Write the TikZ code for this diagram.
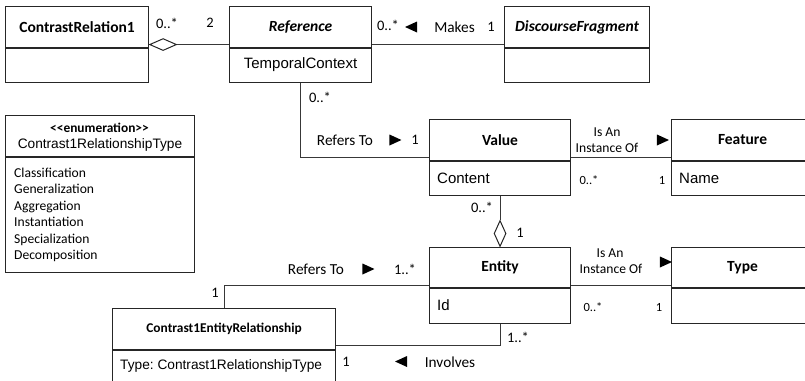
\documentclass[tikz,border=0pt]{standalone}
\usepackage{fontspec}
\setmainfont{Carlito}
\newfontfamily\arialfont{Liberation Sans}
\usetikzlibrary{shapes.geometric}
\frenchspacing

% class box: name, left, top, width, height, header height, title
\newcommand\umlbox[7]{%
  \node[box, minimum width=#4pt, minimum height=#5pt, anchor=north west] (#1) at (#2,#3) {};
  \draw[rule] ([yshift=-#6pt]#1.north west) -- ([yshift=-#6pt]#1.north east);
  \node[cname] (#1-title) at ([yshift=-#6pt/2]#1.north) {#7};
}

\begin{document}
\begin{tikzpicture}[x=1pt,y=-1pt,
  box/.style={draw=black!85, line width=1.1pt, rectangle, inner sep=0pt, fill=white},
  rule/.style={draw=black!85, line width=1.1pt},
  conn/.style={draw=black!78, line width=1pt},
  cname/.style={font=\fontsize{15.5}{18}\selectfont\bfseries, inner sep=0pt},
  attr/.style={font=\arialfont\fontsize{15}{18}\selectfont, inner sep=0pt},
  lab/.style={font=\fontsize{15.3}{18}\selectfont, inner sep=0pt},
  labs/.style={font=\fontsize{13.6}{16}\selectfont, inner sep=0pt},
  mult/.style={font=\fontsize{14.5}{17}\selectfont, inner sep=0pt},
  mults/.style={font=\fontsize{12.5}{15}\selectfont, inner sep=0pt},
  tri/.style={isosceles triangle, isosceles triangle stretches, fill=black, inner sep=0pt,
    minimum width=11pt, minimum height=12pt},
  rtri/.style={tri, shape border rotate=0},
  ltri/.style={tri, shape border rotate=180},
  agg/.style={diamond, draw=black!85, line width=1pt, fill=white, inner sep=0pt}
]
\clip (0,0) rectangle (805,380);

% ---- classes ----
\umlbox{cr1}{5}{6}{143}{76}{42}{ContrastRelation1}
\umlbox{ref}{229}{6}{142}{76}{42}{\itshape Reference}
\umlbox{df}{504}{6}{145}{76}{42}{\itshape DiscourseFragment}
\umlbox{val}{429}{119}{141}{76}{42}{Value}
\umlbox{feat}{671}{119}{142}{76}{42}{Feature}
\umlbox{ent}{429}{247}{141}{76}{41}{Entity}
\umlbox{type}{671}{247}{142}{76}{41}{Type}
\umlbox{enum}{5}{115}{189}{157}{42}{}
\umlbox{cer}{112}{308}{223}{73}{42}{\fontsize{13.4}{16}\selectfont Contrast1EntityRelationship}

% ---- attributes ----
\node[attr] (ref-a) at ([yshift=-59pt]ref.north) {TemporalContext};
\node[attr, anchor=west] (val-a) at ([xshift=8pt,yshift=-59pt]val.north west) {Content};
\node[attr, anchor=west] (feat-a) at ([xshift=8pt,yshift=-59pt]feat.north west) {Name};
\node[attr, anchor=west] (ent-a) at ([xshift=8pt,yshift=-58pt]ent.north west) {Id};
\node[attr, anchor=west, font=\arialfont\fontsize{13.7}{16}\selectfont] (cer-a)
  at ([xshift=8pt,yshift=-58pt]cer.north west) {Type: Contrast1RelationshipType};

% ---- enumeration ----
\node[cname, font=\fontsize{13.4}{16}\selectfont\bfseries] (enum-st) at (99.5,128) {<{}<enumeration>{}>};
\node[attr, font=\arialfont\fontsize{13.7}{16}\selectfont] (enum-n) at (100,145) {Contrast1RelationshipType};
\foreach \lit [count=\i] in {Classification,Generalization,Aggregation,Instantiation,Specialization,Decomposition}
  \node[labs, anchor=base west] (enum-\i) at (14,{160.5+16.5*\i}) {\lit};

% ---- ContrastRelation1 <>-- Reference ----
\node[agg, minimum width=27pt, minimum height=12pt, anchor=west] (agg1) at (cr1.east) {};
\draw[conn] (agg1.east) -- (ref.west);
\node[mult] (m-cr1) at (167,23) {0..*};
\node[mult] (m-ref1) at (210,23) {2};

% ---- Reference -- DiscourseFragment ----
\draw[conn] (ref.east) -- (df.west);
\node[mult] (m-ref2) at (388,25) {0..*};
\node[ltri] (t-makes) at (413.5,27) {};
\node[lab] (l-makes) at (454.5,27) {Makes};
\node[mult] (m-df) at (491,27) {1};

% ---- Reference -- Value ----
\draw[conn] (ref.south) |- (val.west);
\node[mult] (m-ref3) at (320,97) {0..*};
\node[lab] (l-ref1) at (345,140) {Refers To};
\node[rtri] (t-ref1) at (393,140) {};
\node[mult] (m-val1) at (415,140) {1};

% ---- Value -- Feature ----
\draw[conn] (val.east) -- (feat.west);
\node[labs] (l-vf1) at (607,132) {Is An};
\node[labs] (l-vf2) at (607,148) {Instance Of};
\node[rtri] (t-vf) at (660.5,140) {};
\node[mults] (m-val2) at (589,180) {0..*};
\node[mults] (m-feat) at (662,180) {1};

% ---- Entity <>-- Value ----
\node[agg, minimum width=12pt, minimum height=26pt, anchor=south] (agg2) at (ent.north) {};
\draw[conn] (val.south) -- (agg2.north);
\node[mult] (m-val3) at (482,207) {0..*};
\node[mult] (m-ent1) at (520,233) {1};

% ---- Entity -- Type ----
\draw[conn] (ent.east) -- (type.west);
\node[labs] (l-et1) at (610,253) {Is An};
\node[labs] (l-et2) at (611,269) {Instance Of};
\node[rtri] (t-et) at (663.5,262) {};
\node[mults] (m-ent2) at (593,307) {0..*};
\node[mults] (m-type) at (659,307) {1};

% ---- Contrast1EntityRelationship -- Entity (Refers To) ----
\draw[conn] (ent.west) -| (cer.north);
\node[lab] (l-ref2) at (316,269) {Refers To};
\node[rtri] (t-ref2) at (366,269) {};
\node[mult] (m-ent3) at (405,269) {1..*};
\node[mult] (m-cer1) at (215,293) {1};

% ---- Contrast1EntityRelationship -- Entity (Involves) ----
\draw[conn] (ent.south) |- (cer.east);
\node[mult] (m-ent4) at (518,337) {1..*};
\node[mult] (m-cer2) at (346,362) {1};
\node[ltri] (t-inv) at (403.5,361.5) {};
\node[lab] (l-inv) at (450,362) {Involves};
\end{tikzpicture}
\end{document}
